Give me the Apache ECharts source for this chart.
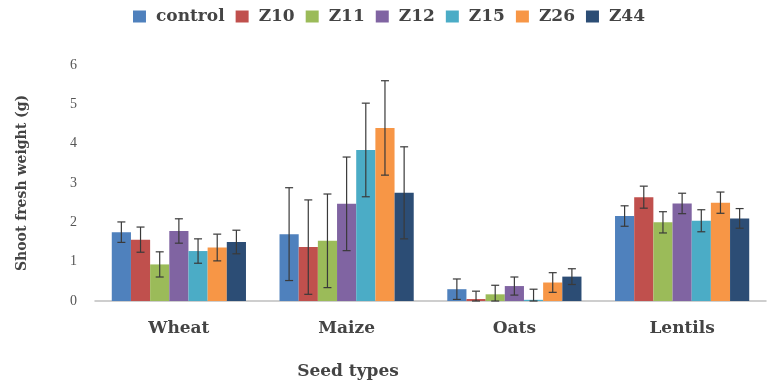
<!DOCTYPE html>
<html>
<head>
<meta charset="utf-8">
<script src="https://cdn.jsdelivr.net/npm/echarts@6/dist/echarts.min.js"></script>
<style>
html,body{margin:0;padding:0;background:#fff;}
#chart{width:778px;height:384px;}
</style>
</head>
<body>
<div id="chart"></div>
<script>
// Seed types on the x axis
const categories = ['Wheat', 'Maize', 'Oats', 'Lentils'];
const treatments = ['control', 'Z10', 'Z11', 'Z12', 'Z15', 'Z26', 'Z44'];
const colors = ['#4F81BD', '#C0504D', '#9BBB59', '#8064A2', '#4BACC6', '#F79646', '#2C4D75'];

// Mean shoot fresh weight (g), one array per treatment: Wheat, Maize, Oats, Lentils
const control = [1.75, 1.70, 0.30, 2.16];
const z10     = [1.56, 1.37, 0.05, 2.64];
const z11     = [0.93, 1.53, 0.17, 2.00];
const z12     = [1.78, 2.47, 0.38, 2.48];
const z15     = [1.27, 3.84, 0.03, 2.04];
const z26     = [1.36, 4.40, 0.47, 2.50];
const z44     = [1.50, 2.75, 0.62, 2.10];

// Standard error bars (g)
const controlErr = [0.26, 1.18, 0.26, 0.26];
const z10Err     = [0.32, 1.20, 0.20, 0.28];
const z11Err     = [0.32, 1.19, 0.23, 0.27];
const z12Err     = [0.31, 1.19, 0.23, 0.26];
const z15Err     = [0.31, 1.19, 0.27, 0.28];
const z26Err     = [0.34, 1.20, 0.25, 0.27];
const z44Err     = [0.30, 1.17, 0.20, 0.25];

const yTicks = [0, 1, 2, 3, 4, 5, 6];

const means = [control, z10, z11, z12, z15, z26, z44];
const errs = [controlErr, z10Err, z11Err, z12Err, z15Err, z26Err, z44Err];

const boldSerif = '"DejaVu Serif", "Liberation Serif", serif';
const serif = '"Liberation Serif", "DejaVu Serif", serif';
const catGap = 0.2;
const nSeries = treatments.length;

const barSeries = treatments.map((name, i) => ({
  name: name,
  type: 'bar',
  data: means[i],
  barGap: '0%',
  barCategoryGap: (catGap * 100) + '%',
  itemStyle: { color: colors[i] },
  z: 2
}));

const errSeries = treatments.map((name, i) => ({
  name: name,
  type: 'custom',
  data: means[i].map((v, k) => [k, v, errs[i][k]]),
  z: 5,
  silent: true,
  renderItem: function (params, api) {
    const k = api.value(0);
    const v = api.value(1);
    const e = api.value(2);
    const band = api.size([1, 0])[0];
    const group = band * (1 - catGap);
    const bw = group / nSeries;
    const center = api.coord([k, 0])[0] - group / 2 + (i + 0.5) * bw;
    const top = api.coord([k, v + e])[1];
    const low = api.coord([k, Math.max(0, v - e)])[1];
    const half = 4;
    const style = { stroke: '#3a3a3a', lineWidth: 1.2 };
    return {
      type: 'group',
      children: [
        { type: 'line', shape: { x1: center, y1: top, x2: center, y2: low }, style: style },
        { type: 'line', shape: { x1: center - half, y1: top, x2: center + half, y2: top }, style: style },
        { type: 'line', shape: { x1: center - half, y1: low, x2: center + half, y2: low }, style: style }
      ]
    };
  }
}));

const chart = echarts.init(document.getElementById('chart'), null, { renderer: 'canvas' });
chart.setOption({
  animation: false,
  backgroundColor: '#ffffff',
  title: {
    text: 'Seed types',
    left: 343,
    top: 358,
    textAlign: 'center',
    textStyle: { fontFamily: boldSerif, fontWeight: 'bold', fontSize: 17, color: '#444' }
  },
  legend: {
    data: treatments,
    top: 3,
    left: 'center',
    itemWidth: 13,
    itemHeight: 12,
    itemGap: 11,
    icon: 'rect',
    textStyle: { fontFamily: boldSerif, fontWeight: 'bold', fontSize: 17, color: '#444', padding: [0, 0, 0, 5] }
  },
  grid: { left: 95, right: 12, top: 65, bottom: 83 },
  xAxis: {
    type: 'category',
    data: categories,
    axisLine: { lineStyle: { color: '#bfbfbf', width: 1.5 } },
    axisTick: { show: false },
    axisLabel: { margin: 19, fontFamily: boldSerif, fontWeight: 'bold', fontSize: 17, color: '#444' }
  },
  yAxis: {
    type: 'value',
    min: yTicks[0],
    max: yTicks[yTicks.length - 1],
    interval: 1,
    name: 'Shoot fresh weight (g)',
    nameLocation: 'middle',
    nameGap: 66,
    nameTextStyle: { fontFamily: boldSerif, fontWeight: 'bold', fontSize: 14, color: '#444' },
    axisLine: { show: false },
    axisTick: { show: false },
    splitLine: { show: false },
    axisLabel: { margin: 18, fontFamily: serif, fontSize: 14, color: '#555' }
  },
  series: barSeries.concat(errSeries)
});
</script>
</body>
</html>
